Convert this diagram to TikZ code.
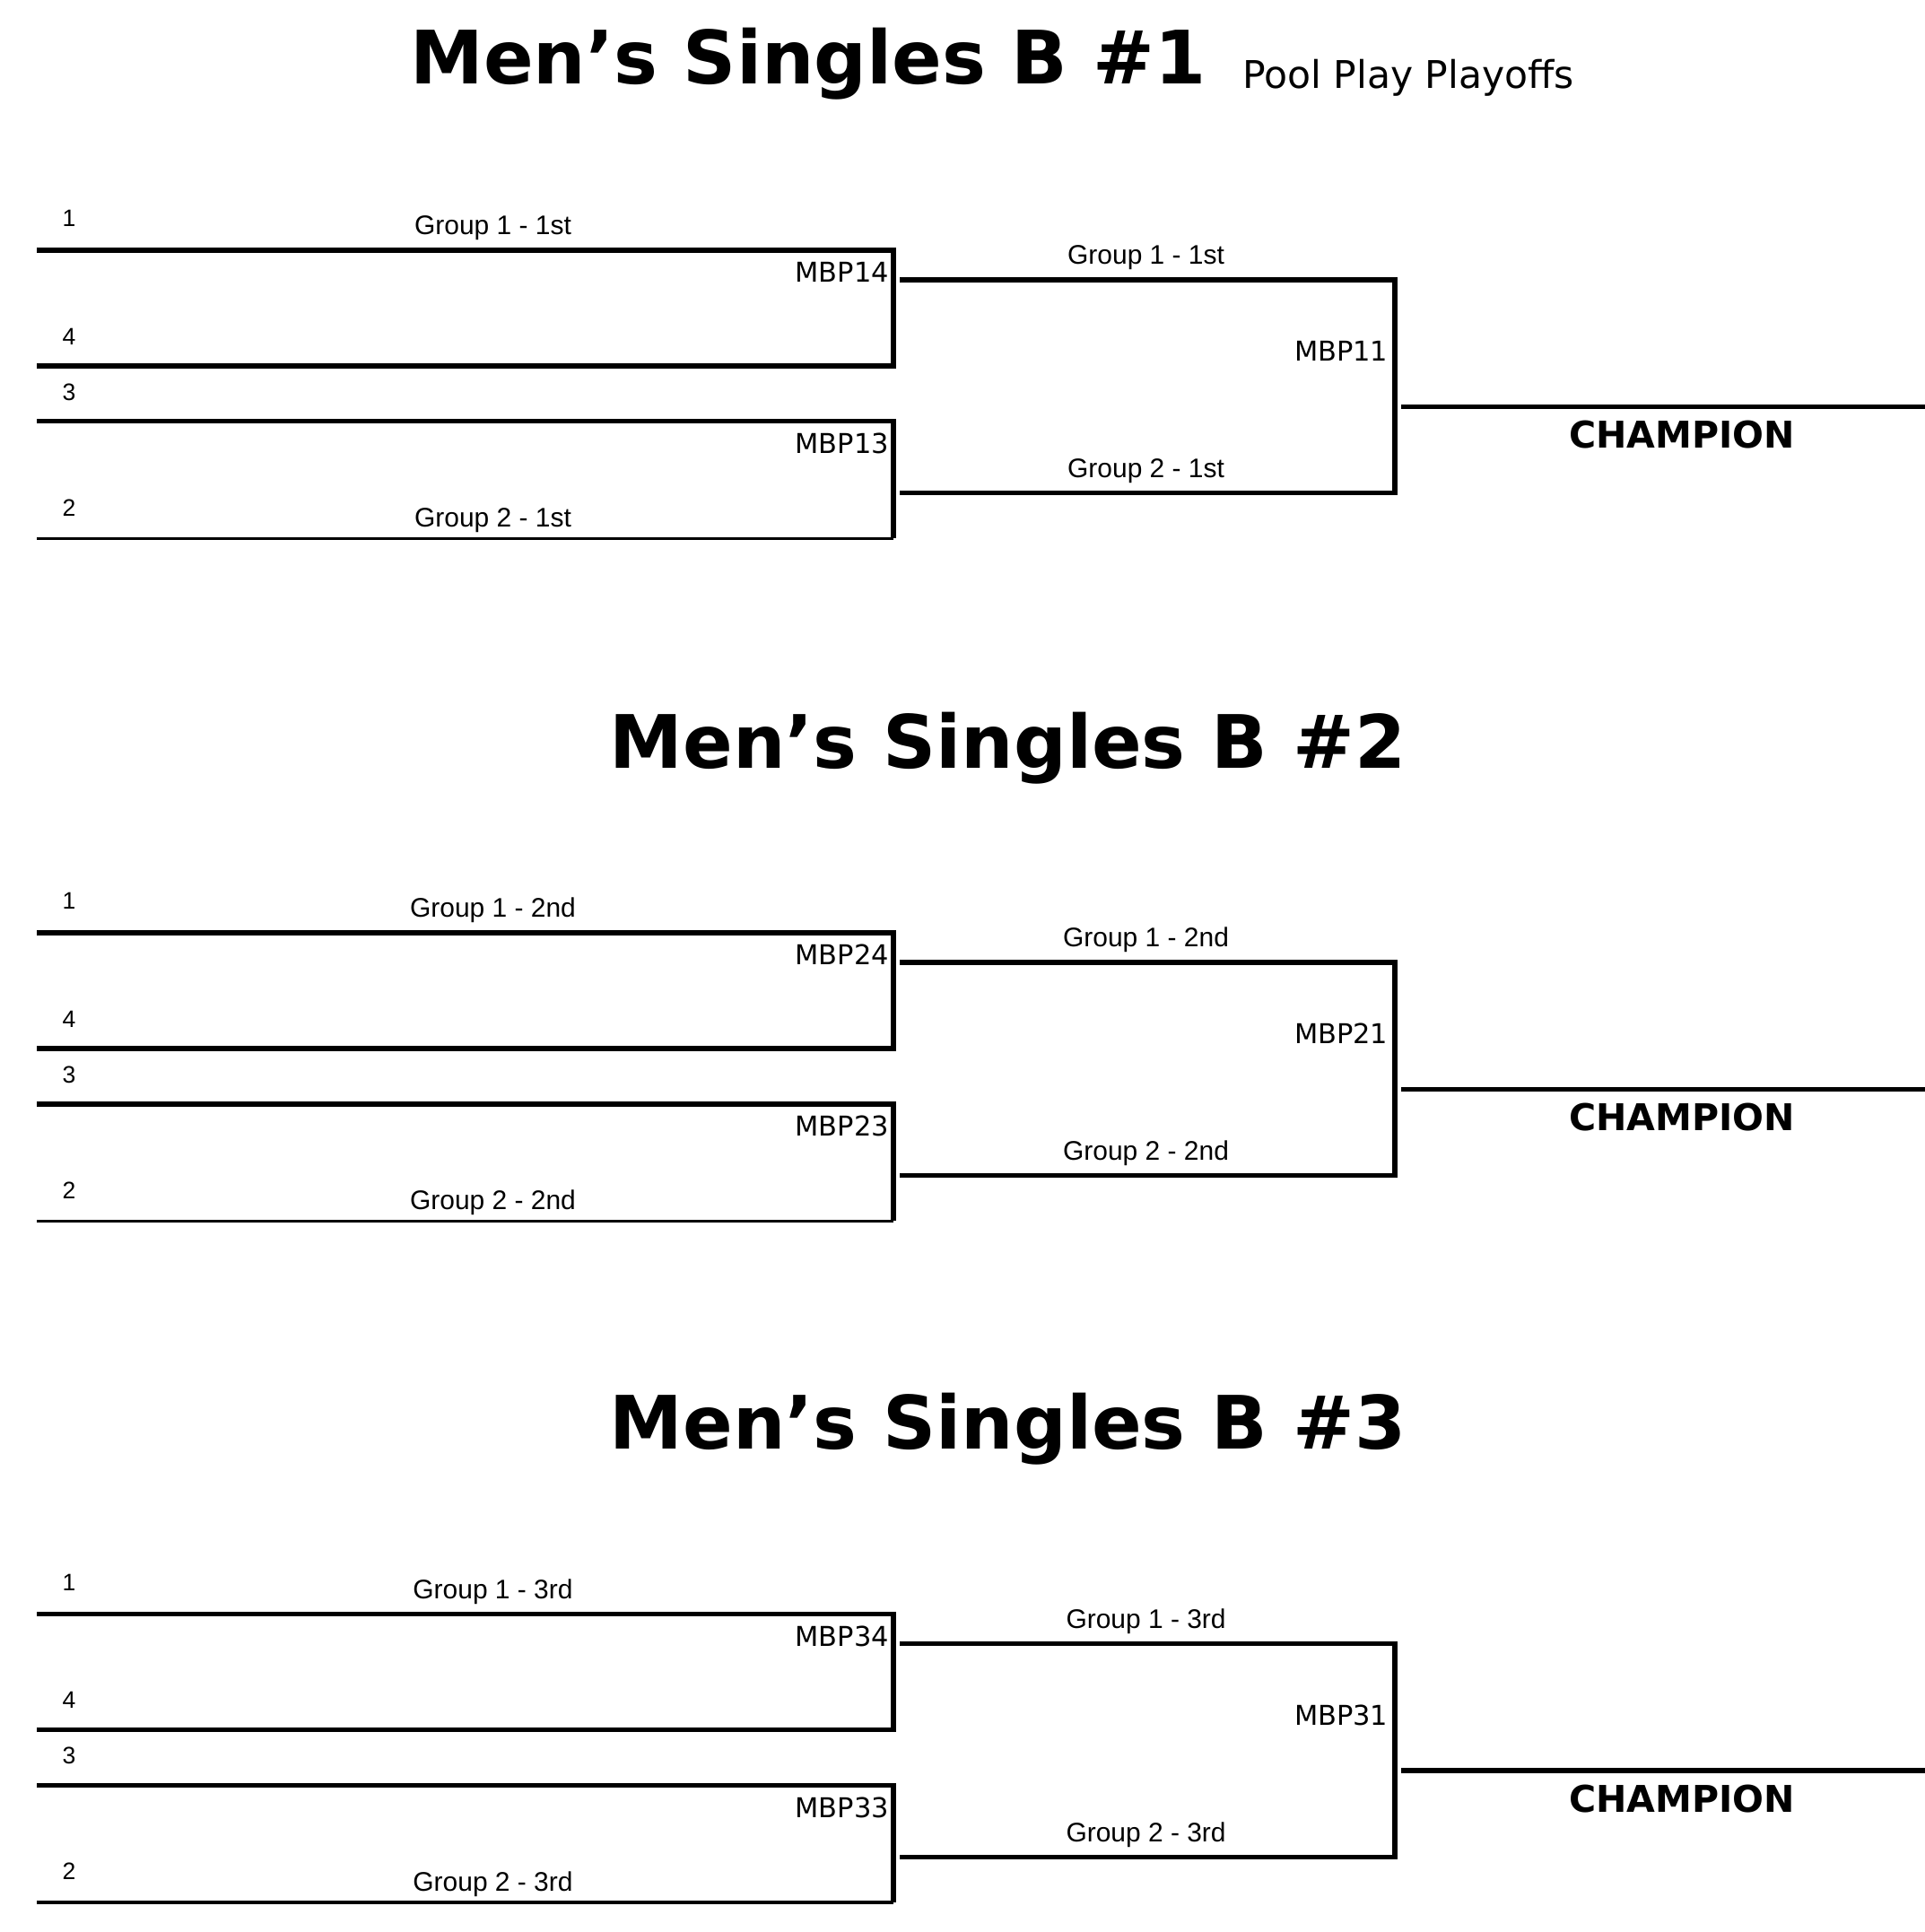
\documentclass[tikz,border=0pt]{standalone}
\usepackage{fontspec}
\setmainfont{DejaVu Sans}
\newfontfamily\labb{Liberation Sans}
\begin{document}
\begin{tikzpicture}[x=0.01cm,y=-0.01cm,
  thk/.style={line width=1.1pt},
  thn/.style={line width=0.7pt},
  ttl/.style={font=\fontsize{17}{20}\selectfont\bfseries},
  num/.style={font=\labb\fontsize{5.5}{6}\selectfont},
  grp/.style={font=\labb\fontsize{6.2}{7}\selectfont},
  mbp/.style={font=\fontsize{6.3}{7}\selectfont,anchor=east,inner sep=0pt},
  chp/.style={font=\fontsize{8.5}{10}\selectfont\bfseries}]
\useasboundingbox (0,0) rectangle (1562,1568);
\node[ttl] (t1) at (656,52) {Men\char"27 s Singles B \#1};
\node[font=\fontsize{8.8}{10}\selectfont,anchor=west] (sub) at (996,63) {Pool Play Playoffs};
\node[ttl] (t2) at (818,607) {Men\char"27 s Singles B \#2};
\node[ttl] (t3) at (818,1160) {Men\char"27 s Singles B \#3};
\foreach \k/\o/\p in {1/0/1st,2/554/2nd,3/1107/3rd}{
  \begin{scope}[yshift=-\o*0.01cm]
  \draw[thk] (30,203) -- (725,203) -- (725,297) -- (30,297);
  \draw[thk] (30,342) -- (725,342) -- (725,437);
  \draw[thn] (725,437) -- (30,437);
  \draw[thk] (730,227) -- (1132,227) -- (1132,400) -- (730,400);
  \draw[thk] (1137,330) -- (1562,330);
  \node[num] (a\k) at (56,177) {1};
  \node[num] (b\k) at (56,273) {4};
  \node[num] (c\k) at (56,318) {3};
  \node[num] (d\k) at (56,412) {2};
  \node[grp] (g1\k) at (400,185) {Group 1 - \p};
  \node[grp] (g2\k) at (400,422) {Group 2 - \p};
  \node[grp] (g3\k) at (930,209) {Group 1 - \p};
  \node[grp] (g4\k) at (930,382) {Group 2 - \p};
  \node[mbp] (m4\k) at (722,221) {MBP\k4};
  \node[mbp] (m3\k) at (722,360) {MBP\k3};
  \node[mbp] (m1\k) at (1127,285) {MBP\k1};
  \node[chp] (ch\k) at (1365,353) {CHAMPION};
  \end{scope}}
\end{tikzpicture}
\end{document}
